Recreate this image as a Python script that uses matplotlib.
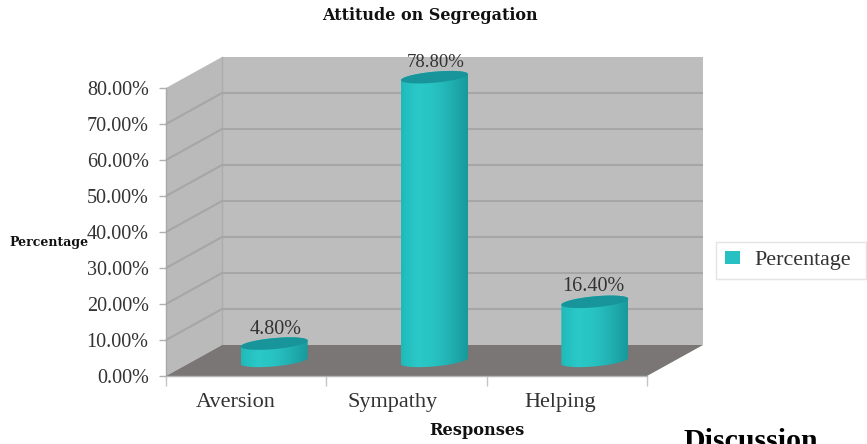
import numpy as np
import matplotlib
matplotlib.use("Agg")
import matplotlib.pyplot as plt
from matplotlib.patches import Polygon, Patch
from matplotlib.transforms import ScaledTranslation
from matplotlib.colors import LinearSegmentedColormap

categories = ["Aversion", "Sympathy", "Helping"]
values = [4.8, 78.8, 16.4]
value_labels = ["4.80%", "78.80%", "16.40%"]
y_ticks = [0, 10, 20, 30, 40, 50, 60, 70, 80]

plt.rcParams["font.family"] = ["Liberation Serif", "DejaVu Serif"]
W, H = 867, 444
fig = plt.figure(figsize=(W / 100, H / 100), dpi=100)
ax = fig.add_axes([166 / W, (H - 376) / H, 481 / W, 288 / H])
ax.set_xlim(-0.5, 2.5)
ax.set_ylim(0, 80)
for s in ax.spines.values():
    s.set_visible(False)
ax.patch.set_visible(False)

# Pixel-to-data scale of the front plane, and the oblique depth of the box
PX_X = 3 / 481
PX_Y = 80 / 288
DX, DY = 56 * PX_X, 31 * PX_Y
L, R = -0.5, 2.5
TEXT = "#333333"
WALL = "#bdbdbd"
GRID = "#a6a6a6"

ax.add_patch(Polygon([(L + DX, DY), (R + DX, DY), (R + DX, 80 + DY), (L + DX, 80 + DY)],
                     fc=WALL, ec="none", clip_on=False, zorder=1))
ax.add_patch(Polygon([(L, 0), (L + DX, DY), (L + DX, 80 + DY), (L, 80)],
                     fc="#bababa", ec="none", clip_on=False, zorder=1))
ax.add_patch(Polygon([(L, 0), (R, 0), (R + DX, DY), (L + DX, DY)],
                     fc="#7a7676", ec="none", clip_on=False, zorder=2))
ax.plot([L + DX, L + DX], [DY, 80 + DY], color="#adadad", lw=1, clip_on=False, zorder=1.5)
ax.plot([L, L], [0, 80], color="#a8a8a8", lw=1, clip_on=False, zorder=1.5)
ax.plot([L, R], [0, 0], color="#b5b5b5", lw=1, clip_on=False, zorder=2.1)

for t in y_ticks[1:-1]:
    ax.plot([L, L + DX, R + DX], [t, t + DY, t + DY], color=GRID, lw=1.5, clip_on=False,
            zorder=1.6, solid_joinstyle="miter", solid_capstyle="butt")

ax.set_yticks(y_ticks)
ax.set_yticklabels([f"{t:.2f}%" for t in y_ticks], fontsize=14.5, color=TEXT)
ax.tick_params(axis="y", length=5, color="#b0b0b0", pad=7.5, width=1)
ax.set_xticks(range(3))
ax.set_xticklabels(categories, fontsize=16, color=TEXT)
ax.set_xticks([-0.5, 0.5, 1.5, 2.5], minor=True)
ax.tick_params(axis="x", which="major", length=0, pad=12.5)
ax.tick_params(axis="x", which="minor", length=7, color="#c4c4c4", width=1)
for lab, shift in zip(ax.get_xticklabels(), (-10, -14, -7)):
    lab.set_transform(lab.get_transform() + ScaledTranslation(shift / 100, 0, fig.dpi_scale_trans))

# Cylinders stand halfway along the floor depth
cyl = LinearSegmentedColormap.from_list(
    "cyl", ["#20b9b9", "#2bc9c9", "#28c2c2", "#21b0b0", "#189a9c"])
grad = np.linspace(0, 1, 128).reshape(1, -1)
A, B, S = 33.5 * PX_X, 5.5 * PX_Y, 3.0 * PX_Y
theta = np.linspace(0, 2 * np.pi, 121)


def ring(cx, cy, t):
    return cx + A * np.cos(t), cy + B * np.sin(t) + S * np.cos(t)


label_shift = [(0.7, 3.3), (1.2, 4.5), (-0.8, 4.5)]
for i, (v, lab) in enumerate(zip(values, value_labels)):
    cx = i + DX / 2
    base = 4.2
    top = base + v
    lo = np.linspace(np.pi, 2 * np.pi, 61)
    hi = np.linspace(0, np.pi, 61)
    xb, yb = ring(cx, base, lo)
    xt, yt = ring(cx, top, hi)
    body = Polygon(np.r_[np.c_[xb, yb], np.c_[xt, yt]], fc="none", ec="none",
                   transform=ax.transData, clip_on=False, zorder=3)
    ax.add_patch(body)
    img = ax.imshow(grad, cmap=cyl, extent=[cx - A, cx + A, base - 5, top + 5],
                    aspect="auto", zorder=3, interpolation="bilinear")
    img.set_clip_path(body)
    img.set_clip_box(fig.bbox)
    xe, ye = ring(cx, top, theta)
    ax.fill(xe, ye, color="#18959a", zorder=4, clip_on=False, lw=0)
    ax.annotate(lab, (cx, top), xytext=label_shift[i], textcoords="offset points", ha="center",
                va="bottom", fontsize=13.5 if i == 1 else 14.5, color=TEXT,
                annotation_clip=False, zorder=5)
ax.set_xlim(-0.5, 2.5)
ax.set_ylim(0, 80)

BOLD = "DejaVu Serif"
fig.text(430 / W, 1 - 16 / H, "Attitude on Segregation", ha="center", va="center",
         fontsize=11.5, fontweight="bold", color="#111111", family=BOLD)
fig.text(49 / W, 1 - 242 / H, "Percentage", ha="center", va="center",
         fontsize=9, fontweight="bold", color="#111111", family=BOLD)
fig.text(477 / W, 1 - 430 / H, "Responses", ha="center", va="center",
         fontsize=11.7, fontweight="bold", color="#111111", family=BOLD)
fig.text(683 / W, 1 - 449 / H, "Discussion", ha="left", va="baseline",
         fontsize=21.5, fontweight="bold", color="#000000")

ax.legend(handles=[Patch(fc="#27c1c4", ec="none", label="Percentage")],
          loc="center left", bbox_to_anchor=(716 / W, (H - 276) / H, 150 / W, 31 / H),
          bbox_transform=fig.transFigure, mode="expand", fontsize=15.8, frameon=True,
          fancybox=False, edgecolor="#e4e4e4", framealpha=1, labelcolor=TEXT, borderaxespad=0,
          handlelength=0.68, handleheight=0.55, handletextpad=0.65, borderpad=0.42)

fig.savefig("out.png", dpi=100)
